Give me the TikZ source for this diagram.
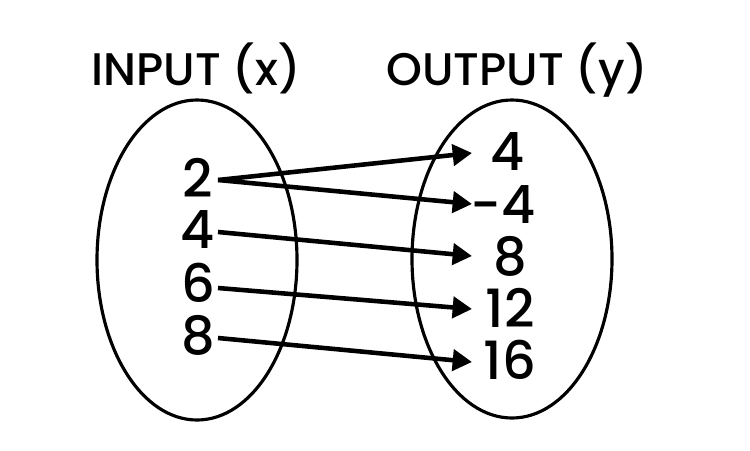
\documentclass[tikz,border=0pt]{standalone}
\usepackage{fontspec}
\setmainfont{Poppins}[UprightFont={* Medium}]
\usetikzlibrary{arrows.meta}
\begin{document}
\begin{tikzpicture}[x=0.02cm,y=-0.02cm,
  num/.style={font=\fontsize{30}{30}\selectfont, inner sep=0pt},
  ttl/.style={font=\fontsize{26}{26}\selectfont, inner sep=0pt},
  oval/.style={draw, line width=1.8pt},
  link/.style={line width=2.6pt, -{Triangle[length=11pt,width=12pt]}}]
\useasboundingbox (0,0) rectangle (750,450);
\node[ttl] (tin) at (196,68) {INPUT (x)};
\node[ttl] (tout) at (517,70) {OUTPUT (y)};
\draw[oval] (197,260) ellipse [x radius=100, y radius=160];
\draw[oval] (512,259) ellipse [x radius=100, y radius=159];
\node[num] (l2) at (198,178) {2};
\node[num] (l4) at (198,230) {4};
\node[num] (l6) at (198,283) {6};
\node[num] (l8) at (198,335) {8};
\node[num] (r4) at (508,152) {4};
\node[num] (rm4) at (503,205) {-4};
\node[num] (r8) at (510,256) {8};
\node[num] (r12) at (510,308) {12};
\node[num] (r16) at (510,360) {16};
\coordinate (a2) at (218,180);
\coordinate (a4) at (218,232);
\coordinate (a6) at (218,288);
\coordinate (a8) at (218,338);
\coordinate (b4) at (472,153);
\coordinate (bm4) at (472,204);
\coordinate (b8) at (472,256);
\coordinate (b12) at (472,309);
\coordinate (b16) at (472,362);
\draw[link] (a2) -- (b4);
\draw[link] (a2) -- (bm4);
\draw[link] (a4) -- (b8);
\draw[link] (a6) -- (b12);
\draw[link] (a8) -- (b16);
\end{tikzpicture}
\end{document}
